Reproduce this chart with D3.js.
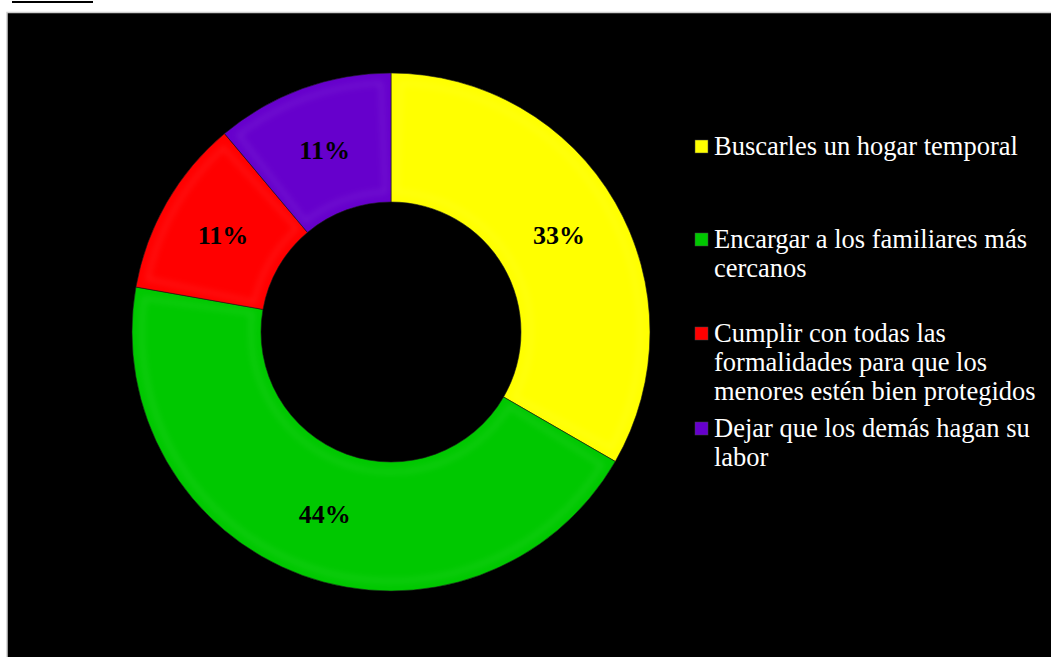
<!DOCTYPE html>
<html><head><meta charset="utf-8">
<script src="https://cdn.jsdelivr.net/npm/d3@7/dist/d3.min.js"></script>
<style>html,body{margin:0;padding:0;background:#fff;overflow:hidden}</style>
</head><body>
<svg id="c" width="1051" height="657"></svg>
<script>
const categories = ["Buscarles un hogar temporal","Encargar a los familiares más cercanos","Cumplir con todas las formalidades para que los menores estén bien protegidos","Dejar que los demás hagan su labor"];
const values = [3, 4, 1, 1];
const percentLabels = ["33%","44%","11%","11%"];
const colors = ["#FFFF00","#00C800","#FF0000","#6600CC"];
const legendLines = [["Buscarles un hogar temporal"],["Encargar a los familiares más","cercanos"],["Cumplir con todas las","formalidades para que los","menores estén bien protegidos"],["Dejar que los demás hagan su","labor"]];

const svg = d3.select("#c");
svg.append("rect").attr("x",12).attr("y",1).attr("width",81).attr("height",2).attr("fill","#000");
svg.append("rect").attr("x",7).attr("y",12.5).attr("width",1050).attr("height",650).attr("fill","#000").attr("stroke","#cfcfcf").attr("stroke-width",1.5);

const cx = 391, cy = 332, rOut = 259, rIn = 130;
const defs = svg.append("defs");
const f = defs.append("filter").attr("id","blur").attr("x","-20%").attr("y","-20%").attr("width","140%").attr("height","140%");
f.append("feGaussianBlur").attr("stdDeviation",3);

const pie = d3.pie().sort(null).value(d=>d);
const arcs = pie(values);
const arc = d3.arc().innerRadius(rIn).outerRadius(rOut);
const g = svg.append("g").attr("transform",`translate(${cx},${cy})`);
g.selectAll("path.s").data(arcs).join("path").attr("class","s")
  .attr("d",arc).attr("fill",(d,i)=>colors[i]).attr("stroke","#1a1a1a").attr("stroke-width",0.6);
// subtle bevel highlight
const inset = d3.arc().innerRadius(rIn+10).outerRadius(rOut-10);
g.selectAll("path.h").data(arcs.map(a=>({startAngle:a.startAngle+0.04,endAngle:a.endAngle-0.04}))).join("path").attr("class","h")
  .attr("d",inset).attr("fill","none").attr("stroke","#fff").attr("stroke-opacity",0.1).attr("stroke-width",3).attr("filter","url(#blur)");

const labelArc = d3.arc().innerRadius(194).outerRadius(194);
g.selectAll("text.p").data(arcs).join("text").attr("class","p")
  .attr("transform",d=>`translate(${labelArc.centroid(d)})`)
  .attr("text-anchor","middle").attr("dy","0.35em")
  .attr("font-family","Liberation Serif, serif").attr("font-weight","bold").attr("font-size",26).attr("fill","#000")
  .text((d,i)=>percentLabels[i]);

const legendY = [155, 248, 342, 437];
const lg = svg.append("g");
legendLines.forEach((lines,i)=>{
  lg.append("rect").attr("x",695).attr("y",legendY[i]-15).attr("width",13).attr("height",13)
    .attr("fill",colors[i]).attr("stroke","#444").attr("stroke-width",0.5);
  const t = lg.append("text").attr("x",714).attr("y",legendY[i]).attr("fill","#fff")
    .attr("font-family","Liberation Serif, serif").attr("font-size",26.5);
  lines.forEach((l,j)=>t.append("tspan").attr("x",714).attr("y",legendY[i]+j*29).text(l));
});
</script>
</body></html>
